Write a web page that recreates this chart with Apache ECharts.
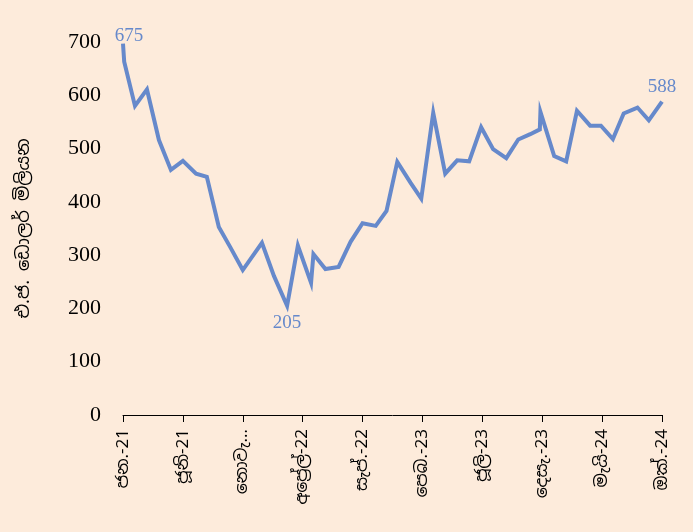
<!DOCTYPE html>
<html>
<head>
<meta charset="utf-8">
<script src="https://cdn.jsdelivr.net/npm/echarts@6/dist/echarts.min.js"></script>
<style>
html,body{margin:0;padding:0;background:#FDEBDB;}
#chart{width:693px;height:532px;}
</style>
</head>
<body>
<div id="chart"></div>
<script>
// Month position (0 = Jan-21) and value (US$ million)
const monthPos = [0,0.1,1,2,3,4,5,6.1,7,8,8.93,10,11.6,12.6,13.7,14.6,15.7,15.9,16.9,18,19,20,21.1,22,22.9,24,24.9,25.9,26.9,27.9,28.9,29.9,30.9,32,33,34,34.8,34.85,36,37,37.9,39,39.9,40.9,41.8,42.95,43.9,45];
const values = [697,663,580,611,516,460,477,453,447,353,316,272,323,261,205,318,248,302,274,278,325,360,355,383,475,436,406,567,453,478,476,540,499,482,517,527,536,569,486,476,571,543,543,518,566,577,553,588];
const tickLabels = ['ජන.-21','ජූනි-21','නොවැ…','අප්‍රේල්-22','සැප්.-22','පෙබ.-23','ජූලි-23','දෙසැ.-23','මැයි-24','ඔක්.-24'];
const yTicks = [0,100,200,300,400,500,600,700];
const pointLabels = [
  {index:0, text:'675', position:[6,2], verticalAlign:'bottom'},
  {index:14, text:'205', position:[0,8], verticalAlign:'top'},
  {index:47, text:'588', position:[0,-5], verticalAlign:'bottom'}
];
const yTitle = 'එ.ජ. ඩොලර් මිලියන';

const lineColor = '#6689CB';
const serif = '"Liberation Serif","Times New Roman",serif';
const sinh = '"Noto Sans Sinhala","Iskoola Pota","Liberation Serif",serif';

const data = monthPos.map((m,i)=>{
  const pl = pointLabels.find(p=>p.index===i);
  const d = {value:[m, values[i]]};
  if (pl) {
    d.label = {show:true, position:pl.position, align:'center', verticalAlign:pl.verticalAlign,
      formatter:pl.text, color:lineColor, fontFamily:serif, fontSize:19};
  }
  return d;
});

const chart = echarts.init(document.getElementById('chart'));
chart.setOption({
  backgroundColor:'#FDEBDB',
  animation:false,
  grid:{left:123, right:31, top:42, bottom:117, containLabel:false},
  xAxis:{
    type:'value', min:0, max:45, interval:5,
    axisLine:{show:true, lineStyle:{color:'#000', width:1}},
    axisTick:{show:true, length:7, lineStyle:{color:'#000'}},
    splitLine:{show:false},
    axisLabel:{rotate:90, margin:14, color:'#000', fontSize:17, fontFamily:sinh,
      formatter:(v)=>tickLabels[Math.round(v/5)] || ''}
  },
  yAxis:{
    type:'value', min:yTicks[0], max:yTicks[yTicks.length-1], interval:100,
    name:yTitle, nameLocation:'middle', nameGap:90, nameRotate:90,
    nameTextStyle:{color:'#000', fontSize:18, fontFamily:sinh},
    axisLine:{show:false}, axisTick:{show:false}, splitLine:{show:false},
    axisLabel:{color:'#000', fontSize:22, fontFamily:serif, margin:22}
  },
  series:[{
    type:'line', data:data, showSymbol:true, symbol:'circle', symbolSize:0,
    lineStyle:{color:lineColor, width:4, join:'miter'},
    itemStyle:{color:lineColor},
    label:{show:false},
    labelLayout:{hideOverlap:false}
  }]
});
</script>
</body>
</html>
